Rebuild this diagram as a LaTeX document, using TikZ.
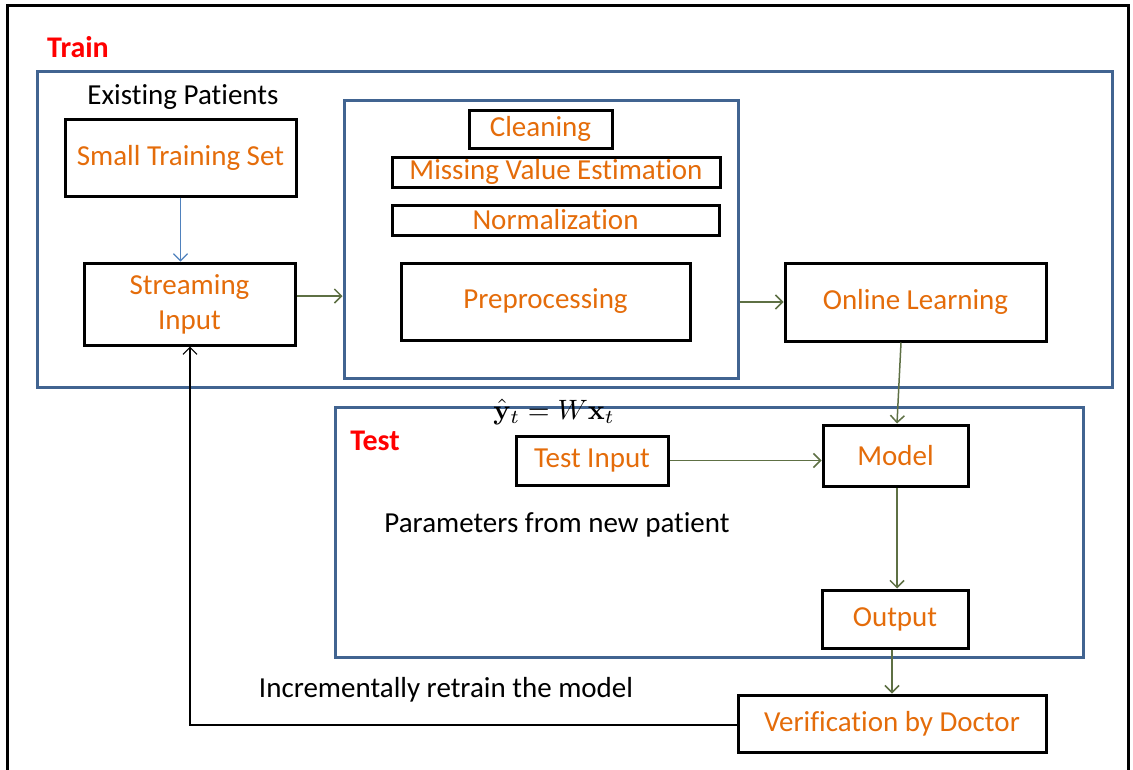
\documentclass[tikz,border=0pt]{standalone}
\usepackage{amsmath}
\usepackage[no-math]{fontspec}
\setmainfont{Carlito}[Ligatures=NoCommon]
\usetikzlibrary{arrows.meta}
\definecolor{boxorange}{RGB}{228,108,10}
\definecolor{frameblue}{RGB}{65,100,145}
\definecolor{arrgreen}{RGB}{94,112,68}
\definecolor{arrblue}{RGB}{79,129,189}
\begin{document}
\begin{tikzpicture}[x=1pt,y=-1pt,
  txt/.style={font=\fontsize{29}{34}\selectfont, inner sep=0pt},
  bx/.style={draw=black, line width=3pt, text=boxorange, font=\fontsize{29}{35}\selectfont, align=center, inner sep=0pt},
  grp/.style={draw=frameblue, line width=3pt, inner sep=0pt},
  lbl/.style={text=red, font=\fontsize{30}{34}\selectfont\bfseries, inner sep=0pt},
  arr/.style={draw=arrgreen, line width=1.5pt, -{Straight Barb[length=7pt,width=14pt,line width=1.5pt]}},
  fb/.style={draw=black, line width=1.2pt, -{Straight Barb[length=7pt,width=14pt,line width=1.2pt]}}]
\useasboundingbox (0,0) rectangle (1133,769);
% outer frame
\draw[line width=3pt] (7,790) -- (7,5) -- (1128,5) -- (1128,790);
% groups
\node[grp, minimum width=1075pt, minimum height=316pt] (train) at (574.5,229) {};
\node[grp, minimum width=394pt, minimum height=278pt] (prep) at (541,239) {};
\node[grp, minimum width=748pt, minimum height=250pt] (test) at (709,532) {};
\node[lbl] (trainlbl) at (78,47) {Train};
\node[lbl] (testlbl) at (375,441) {Test};
% texts
\node[txt] (exist) at (183,97) {Existing Patients};
\node[txt] (params) at (557,525) {Parameters from new patient};
\node[txt] (retrain) at (446,690) {Incrementally retrain the model};
\node[inner sep=0pt, scale=2.8] (formula) at (554,412) {$\hat{\mathbf{y}}_t = W\mathbf{x}_t$};
% boxes
\node[bx, minimum width=231pt, minimum height=77pt] (small) at (180.5,157.5) {Small Training Set};
\node[bx, minimum width=211pt, minimum height=82pt] (stream) at (189.5,304) {Streaming\\Input};
\node[bx, minimum width=143pt, minimum height=38pt] (clean) at (540.5,129) {Cleaning};
\node[bx, minimum width=328pt, minimum height=30pt] (missing) at (556,172) {Missing Value Estimation};
\node[bx, minimum width=327pt, minimum height=30pt] (norm) at (555.5,220) {Normalization};
\node[bx, minimum width=289pt, minimum height=77pt] (preproc) at (545.5,301.5) {Preprocessing};
\node[bx, minimum width=261pt, minimum height=78pt] (online) at (915.5,302) {Online Learning};
\node[bx, minimum width=152pt, minimum height=49pt] (testin) at (592,460.5) {Test Input};
\node[bx, minimum width=145pt, minimum height=61pt] (model) at (895.5,455.5) {Model};
\node[bx, minimum width=146pt, minimum height=58pt] (output) at (895,619) {Output};
\node[bx, minimum width=308pt, minimum height=57pt] (verif) at (892,723.5) {Verification by Doctor};
% connectors
\draw[draw=arrblue, line width=1.2pt, -{Straight Barb[length=7pt,width=14pt,line width=1.2pt]}] (small.south) -- (stream.north -| small.south);
\draw[arr] (stream.east |- 0,296) -- (prep.west |- 0,296);
\draw[arr] (prep.east |- 0,302) -- (online.west |- 0,302);
\draw[arr] (online.south -| 901,0) -- (model.north -| 897,0);
\draw[arr] (testin.east) -- (model.west |- testin.east);
\draw[arr] (model.south -| 897,0) -- (output.north -| 897,0);
\draw[arr] (output.south -| 892,0) -- (verif.north -| 892,0);
\draw[fb] (verif.west |- 0,725) -- (190,725) -- (stream.south -| 190,0);
\end{tikzpicture}
\end{document}
